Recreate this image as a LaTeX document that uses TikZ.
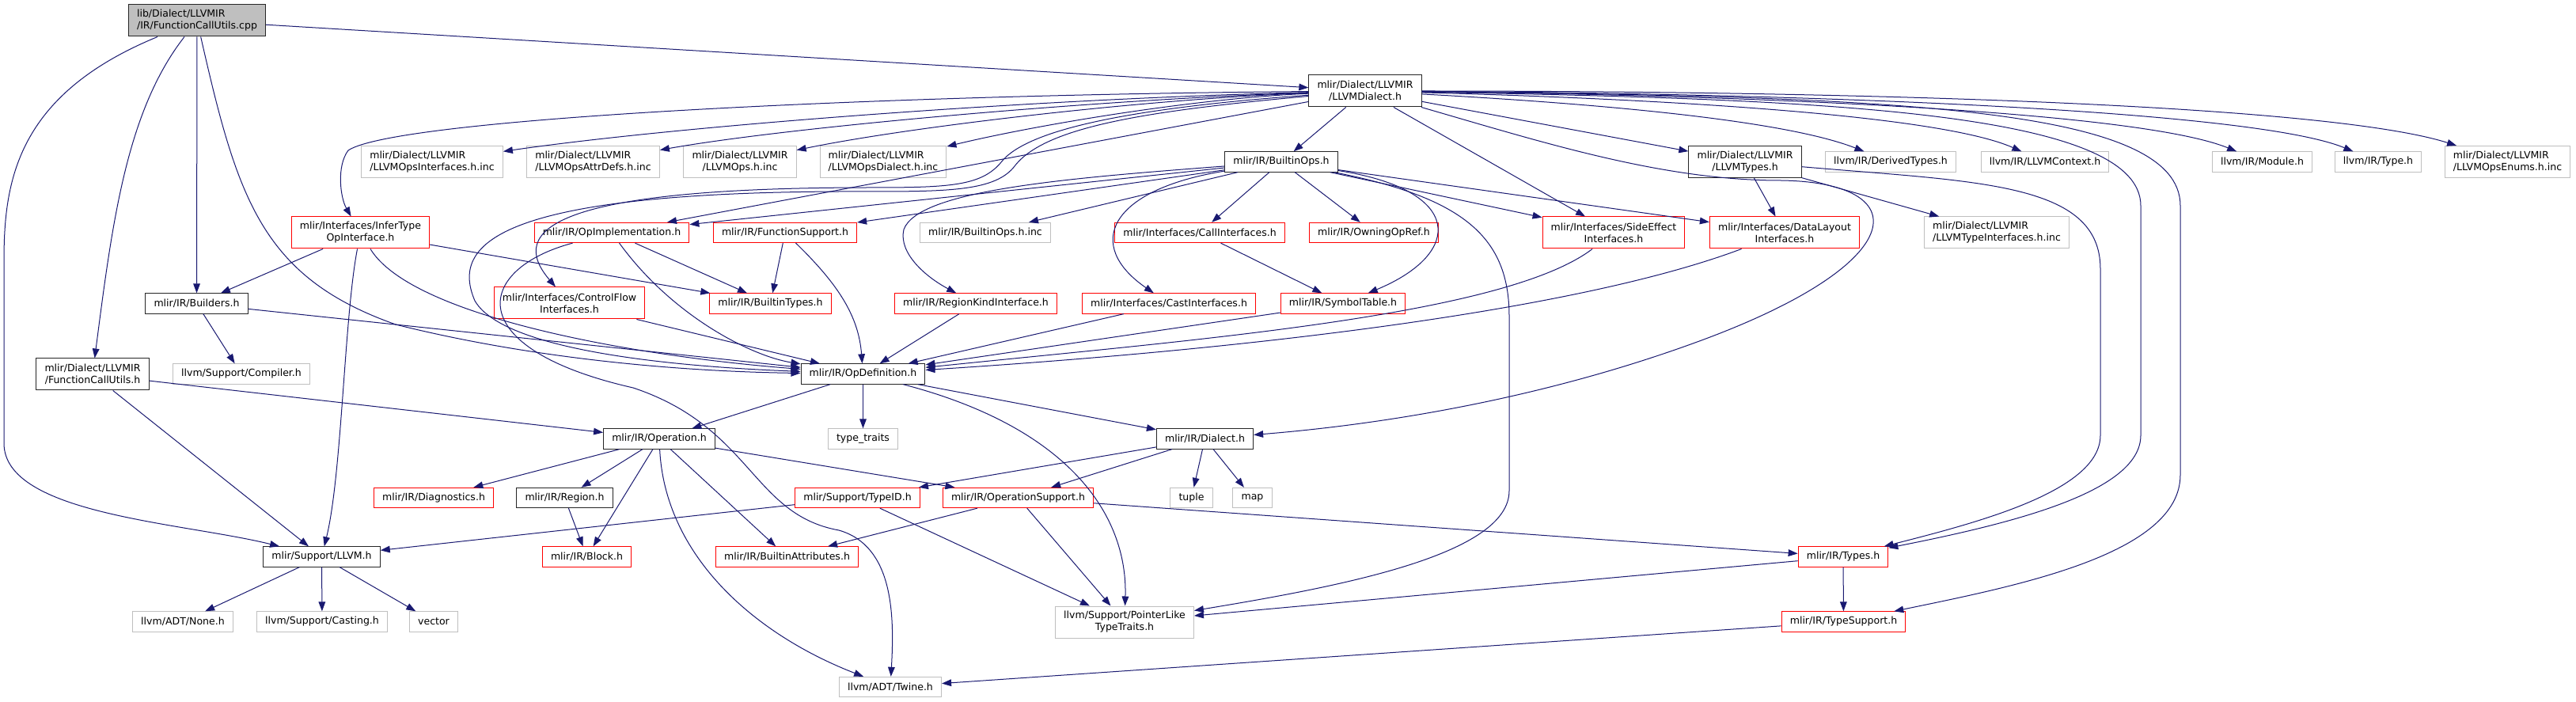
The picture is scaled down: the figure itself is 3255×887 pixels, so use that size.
\documentclass[tikz,border=0pt]{standalone}
\usepackage{fontspec}
\setmainfont{DejaVu Sans}
\usetikzlibrary{arrows.meta}
\definecolor{edgeblue}{HTML}{191970}
\definecolor{boxgray}{HTML}{BFBFBF}

\begin{document}
\begin{tikzpicture}[x=0.75pt,y=-0.75pt,>={Triangle[length=9pt,width=6.5pt]},
  box/.style={rectangle,line width=0.75pt,inner xsep=8pt,inner ysep=1pt,minimum height=19pt,font=\fontsize{9.4pt}{11.3pt}\selectfont},
  hdr/.style={box,draw=black!85},
  trunc/.style={box,draw=red},
  ext/.style={box,draw=boxgray},
  srcfile/.style={hdr,fill=boxgray},
  two/.style={minimum height=30pt,align=center},
  twol/.style={minimum height=30pt,align=left},
  dep/.style={->,draw=edgeblue,line width=0.75pt}]
  \useasboundingbox (0,0) rectangle (3255,887);
  \node[srcfile,twol] (nRoot) at (249,26) {lib/Dialect/LLVMIR\\/IR/FunctionCallUtils.cpp};
  \node[hdr,two] (nLLVMDialect) at (1725,115) {mlir/Dialect/LLVMIR\\/LLVMDialect.h};
  \node[ext,twol] (nOpsIfaceInc) at (546,204.5) {mlir/Dialect/LLVMIR\\/LLVMOpsInterfaces.h.inc};
  \node[ext,twol] (nOpsAttrInc) at (749.5,204.5) {mlir/Dialect/LLVMIR\\/LLVMOpsAttrDefs.h.inc};
  \node[ext,two] (nOpsInc) at (935,204.5) {mlir/Dialect/LLVMIR\\/LLVMOps.h.inc};
  \node[ext,twol] (nOpsDialectInc) at (1116,204.5) {mlir/Dialect/LLVMIR\\/LLVMOpsDialect.h.inc};
  \node[hdr] (nBuiltinOps) at (1619,204.5) {mlir/IR/BuiltinOps.h};
  \node[hdr,two] (nLLVMTypes) at (2205,204.5) {mlir/Dialect/LLVMIR\\/LLVMTypes.h};
  \node[ext] (nDerivedTypes) at (2389,204.5) {llvm/IR/DerivedTypes.h};
  \node[ext] (nLLVMContext) at (2584,204.5) {llvm/IR/LLVMContext.h};
  \node[ext] (nModule) at (2858.5,204.5) {llvm/IR/Module.h};
  \node[ext] (nType) at (3005,204.5) {llvm/IR/Type.h};
  \node[ext,twol] (nOpsEnumsInc) at (3168.5,204.5) {mlir/Dialect/LLVMIR\\/LLVMOpsEnums.h.inc};
  \node[trunc,two] (nInferType) at (455.5,294) {mlir/Interfaces/InferType\\OpInterface.h};
  \node[trunc] (nOpImpl) at (773,294) {mlir/IR/OpImplementation.h};
  \node[trunc] (nFuncSupport) at (992,294) {mlir/IR/FunctionSupport.h};
  \node[ext] (nBuiltinOpsInc) at (1245,294) {mlir/IR/BuiltinOps.h.inc};
  \node[trunc] (nCallIface) at (1516,294) {mlir/Interfaces/CallInterfaces.h};
  \node[trunc] (nOwningOpRef) at (1736,294) {mlir/IR/OwningOpRef.h};
  \node[trunc,two] (nSideEffect) at (2039,294) {mlir/Interfaces/SideEffect\\Interfaces.h};
  \node[trunc,two] (nDataLayout) at (2255,294) {mlir/Interfaces/DataLayout\\Interfaces.h};
  \node[ext,twol] (nTypeIfaceInc) at (2523,294) {mlir/Dialect/LLVMIR\\/LLVMTypeInterfaces.h.inc};
  \node[trunc,two] (nControlFlow) at (719.5,383) {mlir/Interfaces/ControlFlow\\Interfaces.h};
  \node[hdr] (nBuilders) at (248.5,383.5) {mlir/IR/Builders.h};
  \node[trunc] (nBuiltinTypes) at (973.5,383.5) {mlir/IR/BuiltinTypes.h};
  \node[trunc] (nRegionKind) at (1233,383.5) {mlir/IR/RegionKindInterface.h};
  \node[trunc] (nCastIface) at (1477,383.5) {mlir/Interfaces/CastInterfaces.h};
  \node[trunc] (nSymbolTable) at (1697,383.5) {mlir/IR/SymbolTable.h};
  \node[hdr,two] (nFuncCallUtils) at (117,473) {mlir/Dialect/LLVMIR\\/FunctionCallUtils.h};
  \node[ext] (nCompiler) at (305,472.5) {llvm/Support/Compiler.h};
  \node[hdr] (nOpDefinition) at (1090.5,472.5) {mlir/IR/OpDefinition.h};
  \node[hdr] (nOperation) at (833,554.5) {mlir/IR/Operation.h};
  \node[ext] (nTypeTraits) at (1090.5,554.5) {type\_traits};
  \node[hdr] (nDialect) at (1522.5,554.5) {mlir/IR/Dialect.h};
  \node[trunc] (nDiagnostics) at (548,629) {mlir/IR/Diagnostics.h};
  \node[hdr] (nRegion) at (713.5,629) {mlir/IR/Region.h};
  \node[trunc] (nTypeID) at (1083.5,629) {mlir/Support/TypeID.h};
  \node[trunc] (nOpSupport) at (1286.5,629) {mlir/IR/OperationSupport.h};
  \node[ext] (nTuple) at (1505.5,629) {tuple};
  \node[ext] (nMap) at (1582.5,629) {map};
  \node[hdr] (nLLVM) at (406.5,703.5) {mlir/Support/LLVM.h};
  \node[trunc] (nBlock) at (741.5,703.5) {mlir/IR/Block.h};
  \node[trunc] (nBuiltinAttr) at (994.5,703.5) {mlir/IR/BuiltinAttributes.h};
  \node[trunc] (nTypes) at (2329,703.5) {mlir/IR/Types.h};
  \node[ext] (nNone) at (231,785.5) {llvm/ADT/None.h};
  \node[ext] (nCasting) at (407,785.5) {llvm/Support/Casting.h};
  \node[ext] (nVector) at (548,785.5) {vector};
  \node[ext,two] (nPointerLike) at (1421,786) {llvm/Support/PointerLike\\TypeTraits.h};
  \node[trunc] (nTypeSupport) at (2329.5,785.5) {mlir/IR/TypeSupport.h};
  \node[ext] (nTwine) at (1125,868) {llvm/ADT/Twine.h};
  \draw[dep] (nRoot) -- (nLLVMDialect);
  \draw[dep] (nRoot) -- (nBuilders);
  \draw[dep] (nRoot) .. controls (160,140) and (142,280) .. (nFuncCallUtils);
  \draw[dep] (nRoot) .. controls (20,120) and (5,230) .. (5,330) -- (5,560) .. controls (5,650) and (230,660) .. (nLLVM);
  \draw[dep] (nRoot) .. controls (300,250) and (330,350) .. (500,410) .. controls (700,460) and (900,470) .. (nOpDefinition);
  \draw[dep] (nLLVMDialect) .. controls (1300,125) and (850,160) .. (nOpsIfaceInc);
  \draw[dep] (nLLVMDialect) .. controls (1400,125) and (1000,160) .. (nOpsAttrInc);
  \draw[dep] (nLLVMDialect) .. controls (1450,125) and (1150,160) .. (nOpsInc);
  \draw[dep] (nLLVMDialect) .. controls (1500,125) and (1300,160) .. (nOpsDialectInc);
  \draw[dep] (nLLVMDialect) .. controls (1100,120) and (500,150) .. (440,190) .. controls (425,210) and (430,250) .. (nInferType);
  \draw[dep] (nLLVMDialect) -- (nOpImpl);
  \draw[dep] (nLLVMDialect) .. controls (1450,135) and (1300,160) .. (1265,205) .. controls (1240,235) and (1200,237) .. (1100,237) .. controls (700,237) and (640,290) .. (nControlFlow);
  \draw[dep] (nLLVMDialect) .. controls (1450,140) and (1320,160) .. (1282,210) .. controls (1258,241) and (1200,242) .. (1100,242) .. controls (620,240) and (570,310) .. (600,380) .. controls (640,450) and (900,465) .. (nOpDefinition);
  \draw[dep] (nLLVMDialect) -- (nBuiltinOps);
  \draw[dep] (nLLVMDialect) -- (nSideEffect);
  \draw[dep] (nLLVMDialect) -- (nLLVMTypes);
  \draw[dep] (nLLVMDialect) .. controls (2000,130) and (2250,150) .. (nDerivedTypes);
  \draw[dep] (nLLVMDialect) .. controls (2100,125) and (2450,145) .. (nLLVMContext);
  \draw[dep] (nLLVMDialect) .. controls (2200,120) and (2700,140) .. (nModule);
  \draw[dep] (nLLVMDialect) .. controls (2300,118) and (2850,140) .. (nType);
  \draw[dep] (nLLVMDialect) .. controls (2400,115) and (2950,135) .. (nOpsEnumsInc);
  \draw[dep] (nLLVMDialect) .. controls (1950,180) and (2100,228) .. (2250,228) .. controls (2420,230) and (2420,330) .. (2150,430) .. controls (1920,515) and (1700,540) .. (nDialect);
  \draw[dep] (nLLVMDialect) .. controls (2300,125) and (2705,140) .. (2705,260) -- (2705,550) .. controls (2705,620) and (2550,660) .. (nTypes);
  \draw[dep] (nLLVMDialect) .. controls (2400,122) and (2755,135) .. (2755,260) -- (2755,600) .. controls (2755,700) and (2550,740) .. (nTypeSupport);
  \draw[dep] (nBuiltinOps) -- (nOpImpl);
  \draw[dep] (nBuiltinOps) -- (nFuncSupport);
  \draw[dep] (nBuiltinOps) -- (nBuiltinOpsInc);
  \draw[dep] (nBuiltinOps) .. controls (1350,225) and (1160,240) .. (1142,290) .. controls (1135,320) and (1170,350) .. (nRegionKind);
  \draw[dep] (nBuiltinOps) .. controls (1400,240) and (1370,310) .. (nCastIface);
  \draw[dep] (nBuiltinOps) -- (nCallIface);
  \draw[dep] (nBuiltinOps) -- (nOwningOpRef);
  \draw[dep] (nBuiltinOps) .. controls (1850,240) and (1850,320) .. (nSymbolTable);
  \draw[dep] (nBuiltinOps) -- (nSideEffect);
  \draw[dep] (nBuiltinOps) -- (nDataLayout);
  \draw[dep] (nBuiltinOps) .. controls (1850,250) and (1907,300) .. (1907,400) -- (1907,620) .. controls (1907,700) and (1700,740) .. (nPointerLike);
  \draw[dep] (nInferType) -- (nBuilders);
  \draw[dep] (nInferType) .. controls (520,400) and (800,450) .. (nOpDefinition);
  \draw[dep] (nInferType) -- (nBuiltinTypes);
  \draw[dep] (nInferType) .. controls (435,400) and (432,600) .. (nLLVM);
  \draw[dep] (nOpImpl) .. controls (850,400) and (950,450) .. (nOpDefinition);
  \draw[dep] (nOpImpl) -- (nBuiltinTypes);
  \draw[dep] (nOpImpl) .. controls (600,340) and (580,440) .. (800,490) .. controls (950,540) and (950,650) .. (1060,670) .. controls (1130,690) and (1130,780) .. (nTwine);
  \draw[dep] (nFuncSupport) -- (nBuiltinTypes);
  \draw[dep] (nFuncSupport) .. controls (1060,360) and (1085,400) .. (nOpDefinition);
  \draw[dep] (nControlFlow) -- (nOpDefinition);
  \draw[dep] (nRegionKind) -- (nOpDefinition);
  \draw[dep] (nCastIface) -- (nOpDefinition);
  \draw[dep] (nCallIface) -- (nSymbolTable);
  \draw[dep] (nSymbolTable) -- (nOpDefinition);
  \draw[dep] (nSideEffect) .. controls (1900,400) and (1500,430) .. (nOpDefinition);
  \draw[dep] (nDataLayout) .. controls (2000,390) and (1600,440) .. (nOpDefinition);
  \draw[dep] (nLLVMTypes) -- (nDataLayout);
  \draw[dep] (nLLVMTypes) -- (nTypeIfaceInc);
  \draw[dep] (nLLVMTypes) .. controls (2500,230) and (2654,230) .. (2654,340) -- (2654,550) .. controls (2654,620) and (2500,660) .. (nTypes);
  \draw[dep] (nBuilders) -- (nCompiler);
  \draw[dep] (nBuilders) -- (nOpDefinition);
  \draw[dep] (nFuncCallUtils) -- (nOperation);
  \draw[dep] (nFuncCallUtils) -- (nLLVM);
  \draw[dep] (nOpDefinition) -- (nOperation);
  \draw[dep] (nOpDefinition) -- (nTypeTraits);
  \draw[dep] (nOpDefinition) -- (nDialect);
  \draw[dep] (nOpDefinition) .. controls (1350,540) and (1425,650) .. (nPointerLike);
  \draw[dep] (nOperation) -- (nDiagnostics);
  \draw[dep] (nOperation) -- (nRegion);
  \draw[dep] (nOperation) -- (nBlock);
  \draw[dep] (nOperation) -- (nBuiltinAttr);
  \draw[dep] (nOperation) .. controls (840,700) and (950,800) .. (nTwine);
  \draw[dep] (nOperation) -- (nOpSupport);
  \draw[dep] (nRegion) -- (nBlock);
  \draw[dep] (nDialect) -- (nTypeID);
  \draw[dep] (nDialect) -- (nOpSupport);
  \draw[dep] (nDialect) -- (nTuple);
  \draw[dep] (nDialect) -- (nMap);
  \draw[dep] (nTypeID) -- (nLLVM);
  \draw[dep] (nTypeID) -- (nPointerLike);
  \draw[dep] (nOpSupport) -- (nBuiltinAttr);
  \draw[dep] (nOpSupport) -- (nPointerLike);
  \draw[dep] (nOpSupport) -- (nTypes);
  \draw[dep] (nTypes) -- (nPointerLike);
  \draw[dep] (nTypes) -- (nTypeSupport);
  \draw[dep] (nTypeSupport) -- (nTwine);
  \draw[dep] (nLLVM) -- (nNone);
  \draw[dep] (nLLVM) -- (nCasting);
  \draw[dep] (nLLVM) -- (nVector);
\end{tikzpicture}
\end{document}
